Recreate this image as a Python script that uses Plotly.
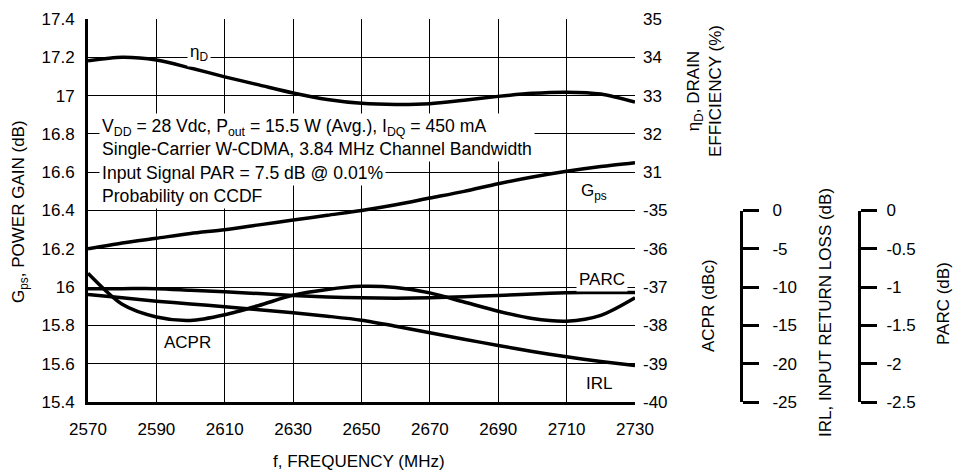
import plotly.graph_objects as go

# ---------------- data ----------------
freq = [2570, 2580, 2590, 2600, 2610, 2620, 2630, 2640, 2650,
        2660, 2670, 2680, 2690, 2700, 2710, 2720, 2730]
gps = [16.20, 16.23, 16.255, 16.28, 16.30, 16.325, 16.35, 16.375, 16.40,
       16.43, 16.465, 16.50, 16.54, 16.575, 16.605, 16.63, 16.65]
eff = [33.91, 34.00, 33.93, 33.72, 33.49, 33.28, 33.07, 32.90, 32.80,
       32.77, 32.79, 32.88, 32.98, 33.06, 33.09, 33.04, 32.83]
acpr = [-36.64, -37.45, -37.78, -37.87, -37.72, -37.48, -37.21, -37.06, -36.98,
        -37.01, -37.15, -37.39, -37.63, -37.82, -37.89, -37.74, -37.28]
irl = [-10.96, -11.40, -11.84, -12.20, -12.57, -12.95, -13.35, -13.80, -14.32,
       -15.10, -15.96, -16.80, -17.62, -18.40, -19.10, -19.70, -20.23]
parc = [-1.02, -1.02, -1.02, -1.04, -1.06, -1.085, -1.11, -1.13, -1.14,
        -1.145, -1.14, -1.125, -1.11, -1.09, -1.075, -1.07, -1.07]

x_ticks = [2570, 2590, 2610, 2630, 2650, 2670, 2690, 2710, 2730]
gps_ticks = [15.4, 15.6, 15.8, 16.0, 16.2, 16.4, 16.6, 16.8, 17.0, 17.2, 17.4]
gps_ticktext = ["15.4", "15.6", "15.8", "16", "16.2", "16.4", "16.6", "16.8", "17", "17.2", "17.4"]
eff_ticks = [31, 32, 33, 34, 35]
acpr_ticks = [-40, -39, -38, -37, -36, -35]
acpr_ticktext = ["-40", "-39", "-38", "-37", "-36", "-35"]
irl_ticks = [-25, -20, -15, -10, -5, 0]
irl_ticktext = ["-25", "-20", "-15", "-10", "-5", "0"]
parc_ticks = [-2.5, -2.0, -1.5, -1.0, -0.5, 0]
parc_ticktext = ["-2.5", "-2", "-1.5", "-1", "-0.5", "0"]

# ---------------- layout geometry (page pixels; page body has an 8px margin) ----------------
OFF = 8
W, H = 964 - OFF, 476 - OFF
PL, PR, PT, PB = 88, 635, 19, 402          # plot box in page pixels
ML = PL - OFF
MT = PT - OFF
MB = H - (PB - OFF)
MR = 10
PW = W - ML - MR
PH = H - MT - MB
X_END = (PR - PL) / PW
IRL_POS = (741 - PL) / PW
PARC_POS = (859 - PL) / PW


def px(x):
    return (x - PL) / PW


def py(y):
    return (PB - y) / PH


FONT = "Liberation Sans, Arial, sans-serif"
FS = 17
line = dict(color="black", width=3.5, shape="spline", smoothing=0.8)

fig = go.Figure()
fig.add_trace(go.Scatter(x=freq, y=gps, mode="lines", line=line, xaxis="x", yaxis="y", name="Gps"))
fig.add_trace(go.Scatter(x=freq, y=eff, mode="lines", line=line, xaxis="x", yaxis="y2", name="ηD"))
fig.add_trace(go.Scatter(x=freq, y=acpr, mode="lines", line=line, xaxis="x", yaxis="y4", name="ACPR"))
fig.add_trace(go.Scatter(x=freq, y=irl, mode="lines", line=line, xaxis="x", yaxis="y3", name="IRL"))
fig.add_trace(go.Scatter(x=freq, y=parc, mode="lines", line=line, xaxis="x", yaxis="y5", name="PARC"))

tickfont = dict(family=FONT, size=FS, color="black")

fig.update_layout(
    width=W, height=H,
    margin=dict(l=ML, r=MR, t=MT, b=MB, autoexpand=False),
    paper_bgcolor="white", plot_bgcolor="rgba(0,0,0,0)",
    showlegend=False,
    font=dict(family=FONT, size=FS, color="black"),
    xaxis=dict(domain=[0, X_END], anchor="y", range=[2570, 2730], tickvals=x_ticks,
               showgrid=True, gridcolor="black", gridwidth=1.2, zeroline=False,
               showline=True, linecolor="black", linewidth=3, ticks="", automargin=False,
               tickfont=tickfont, ticklabelstandoff=10),
    yaxis=dict(domain=[0, 1], anchor="x", range=[15.4, 17.4], tickvals=gps_ticks,
               ticktext=gps_ticktext, showgrid=True, gridcolor="black", gridwidth=1.2,
               zeroline=False, showline=True, linecolor="black", linewidth=3, ticks="",
               automargin=False, tickfont=tickfont, ticklabelstandoff=7),
    yaxis2=dict(overlaying="y", anchor="x", side="right", range=[25, 35], tickvals=eff_ticks,
                showgrid=False, zeroline=False, showline=False, ticks="", automargin=False,
                tickfont=tickfont, ticklabelstandoff=7),
    yaxis4=dict(overlaying="y", anchor="x", side="right", range=[-40, -30], tickvals=acpr_ticks,
                ticktext=acpr_ticktext,
                showgrid=False, zeroline=False, showline=False, ticks="", automargin=False,
                tickfont=tickfont, ticklabelstandoff=7),
    yaxis3=dict(domain=[0, 0.5], anchor="free", position=IRL_POS, side="right",
                range=[-25, 0], tickvals=irl_ticks, ticktext=irl_ticktext,
                showgrid=False, zeroline=False, automargin=False,
                showline=True, linecolor="black", linewidth=3,
                ticks="outside", ticklen=16, tickwidth=3, tickcolor="black",
                tickfont=tickfont, ticklabelstandoff=10),
    yaxis5=dict(domain=[0, 0.5], anchor="free", position=PARC_POS, side="right",
                range=[-2.5, 0], tickvals=parc_ticks, ticktext=parc_ticktext,
                showgrid=False, zeroline=False, automargin=False,
                showline=True, linecolor="black", linewidth=3,
                ticks="outside", ticklen=16, tickwidth=3, tickcolor="black",
                tickfont=tickfont, ticklabelstandoff=6),
)

ann = []


def add(text, x, y, xanchor="center", yanchor="middle", angle=0, bg=None, align="center", size=FS):
    d = dict(text=text, x=px(x), y=py(y), xref="paper", yref="paper", showarrow=False,
             xanchor=xanchor, yanchor=yanchor, textangle=angle, align=align,
             font=dict(family=FONT, size=size, color="black"))
    if bg:
        d["bgcolor"] = bg
        d["borderpad"] = 2
    ann.append(d)


# axis titles
add("G<sub>ps</sub>, POWER GAIN (dB)", 20, 212, angle=-90)
add("f, FREQUENCY (MHz)", 359, 461)
add("η<sub>D</sub>, DRAIN<br>EFFICIENCY (%)", 704, 91, angle=-90)
add("ACPR (dBc)", 708, 306, angle=-90)
add("IRL, INPUT RETURN LOSS (dB)", 825, 313, angle=-90)
add("PARC (dB)", 943, 304, angle=-90)

# condition text
TS = 17.6
add("V<sub>DD</sub> = 28 Vdc, P<sub>out</sub> = 15.5 W (Avg.), I<sub>DQ</sub> = 450 mA<br>"
    "Single-Carrier W-CDMA, 3.84 MHz Channel Bandwidth",
    99, 137, xanchor="left", bg="white", align="left", size=TS)
add("Input Signal PAR = 7.5 dB @ 0.01%", 99, 173, xanchor="left", bg="white", align="left", size=TS)
add("Probability on CCDF", 99, 196, xanchor="left", bg="white", align="left", size=TS)

# curve labels
add("η<sub>D</sub>", 199, 53, bg="white")
add("G<sub>ps</sub>", 594, 192)
add("PARC", 602, 279, bg="white")
add("ACPR", 187, 342)
add("IRL", 599, 383)

fig.update_layout(annotations=ann)

fig.write_html("out.html")
